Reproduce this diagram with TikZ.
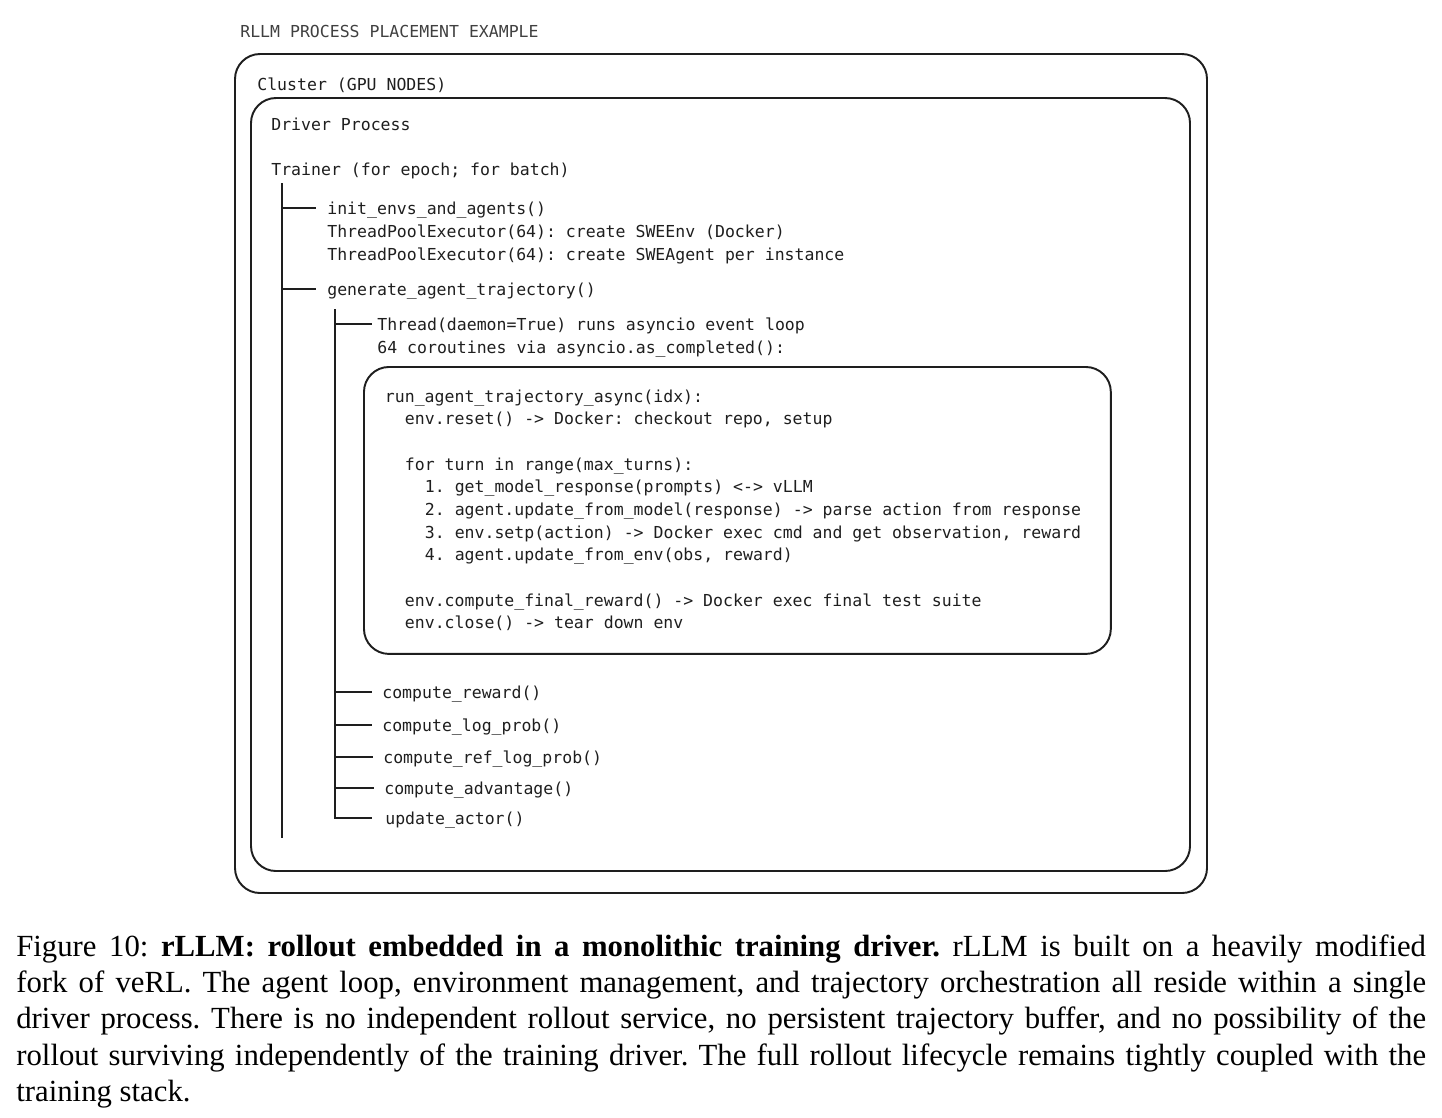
\documentclass[tikz,border=0pt]{standalone}
\usepackage{fontspec}
\setmainfont{Liberation Serif}
\setmonofont{DejaVu Sans Mono}
\usetikzlibrary{calc}

\definecolor{ink}{HTML}{1E1E1E}
\tikzset{
  code/.style={font=\ttfamily\fontsize{9.4}{12.9}\selectfont, text=ink,
    anchor=west, inner sep=0pt, text height=9.2pt, text depth=2pt},
  frame/.style={draw=ink, line width=1.1pt, rounded corners=0.5cm},
  codebox/.style={frame, font=\ttfamily\fontsize{9.4}{12.9}\selectfont, text=ink,
    anchor=north west, align=left, text width=14.1cm, inner xsep=0.42cm,
    minimum height=5.74cm,
    execute at begin node={\spaceskip=\fontdimen2\font\xspaceskip=\fontdimen2\font}},
  branch/.style={draw=ink, line width=1.1pt},
}
\newcommand{\ind}{\hspace*{0.4cm}}

\begin{document}
\begin{tikzpicture}[x=0.02cm, y=-0.02cm]
  \useasboundingbox (0,0) rectangle (1442,1117);
  \node[code, text=ink!85] (title) at (240,31) {RLLM PROCESS PLACEMENT EXAMPLE};

  % cluster and driver frames
  \draw[frame] (235,54) rectangle (1207,893);
  \node[code] (cluster) at (257,84) {Cluster (GPU NODES)};
  \draw[frame] (251,98) rectangle (1190,871);
  \node[code] (driver) at (271,124) {Driver Process};
  \node[code] (trainer) at (271,169) {Trainer (for epoch; for batch)};

  % trainer steps
  \node[code] (init) at (327,208) {init\_envs\_and\_agents()};
  \node[code] (envpool) at (327,231) {ThreadPoolExecutor(64): create SWEEnv (Docker)};
  \node[code] (agentpool) at (327,254) {ThreadPoolExecutor(64): create SWEAgent per instance};
  \node[code] (generate) at (327,289) {generate\_agent\_trajectory()};

  \node[code] (thread) at (377,324) {Thread(daemon=True) runs asyncio event loop};
  \node[code] (coros) at (377,347) {64 coroutines via asyncio.as\_completed():};

  \node[codebox] (rollout) at (363,366) {%
    run\_agent\_trajectory\_async(idx):\\
    \ind env.reset() -> Docker: checkout repo, setup\\[12.9pt]
    \ind for turn in range(max\_turns):\\
    \ind\ind 1. get\_model\_response(prompts) <-> vLLM\\
    \ind\ind 2. agent.update\_from\_model(response) -> parse action from response\\
    \ind\ind 3. env.setp(action) -> Docker exec cmd and get observation, reward\\
    \ind\ind 4. agent.update\_from\_env(obs, reward)\\[12.9pt]
    \ind env.compute\_final\_reward() -> Docker exec final test suite\\
    \ind env.close() -> tear down env};

  \node[code] (reward) at (382,692) {compute\_reward()};
  \node[code] (logprob) at (382,725) {compute\_log\_prob()};
  \node[code] (reflogprob) at (383,757) {compute\_ref\_log\_prob()};
  \node[code] (advantage) at (384,788) {compute\_advantage()};
  \node[code] (actor) at (385,818) {update\_actor()};

  % tree lines
  \coordinate (trunkA) at (282,183);
  \coordinate (trunkAend) at (282,838);
  \draw[branch] (trunkA) -- (trunkAend);
  \draw[branch] (trunkA |- init.west) -- ($(init.west)+(-11,0)$);
  \draw[branch] (trunkA |- generate.west) -- ($(generate.west)+(-11,0)$);

  \coordinate (trunkB) at (335,309);
  \draw[branch] (trunkB) |- ($(actor.west)+(-13,0)$);
  \draw[branch] (trunkB |- thread.west) -- ($(thread.west)+(-5,0)$);
  \foreach \n in {reward,logprob,reflogprob,advantage}
    \draw[branch] (trunkB |- \n.west) -- ($(\n.west)+(-10,0)$);

  % caption
  \node[anchor=north west, inner sep=0pt, text width=28.2cm, align=justify,
    font=\fontsize{17.5}{20.7}\selectfont\frenchspacing] (caption) at (16,934) {Figure 10:
    \textbf{rLLM: rollout embedded in a monolithic training driver.} rLLM is built
    on a heavily modified\linebreak fork of veRL. The agent loop, environment
    management, and trajectory orchestration all reside within a single\linebreak
    driver process. There is no independent rollout service, no persistent
    trajectory buffer, and no possibility of the\linebreak rollout surviving
    independently of the training driver. The full rollout lifecycle remains
    tightly coupled with the\linebreak training stack.};
\end{tikzpicture}
\end{document}
